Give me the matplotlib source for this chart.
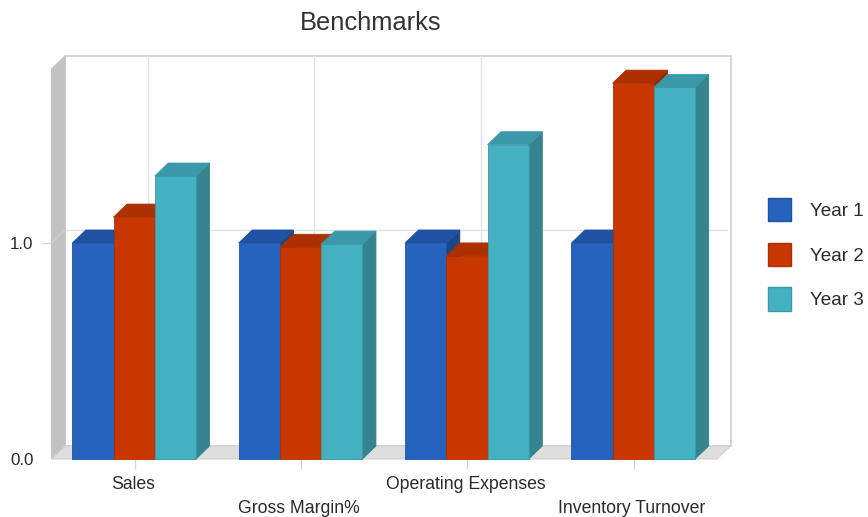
import matplotlib
matplotlib.use("Agg")
import matplotlib.pyplot as plt
from matplotlib.patches import Polygon, Patch
from matplotlib.transforms import ScaledTranslation

categories = ["Sales", "Gross Margin%", "Operating Expenses", "Inventory Turnover"]
series_names = ["Year 1", "Year 2", "Year 3"]
year1 = [1.0, 1.0, 1.0, 1.0]
year2 = [1.12, 0.98, 0.94, 1.74]
year3 = [1.31, 0.995, 1.455, 1.72]
series_values = [year1, year2, year3]
front_colors = ["#2563BF", "#C93700", "#44B1C3"]
top_colors = ["#1F52A3", "#AD3000", "#3A98A8"]
side_colors = ["#1B4788", "#902800", "#36848F"]
edge_colors = ["#1F52A3", "#AD3000", "#3A98A8"]

W, H = 868, 517
L, R, B, T = 51.5, 717.0, 459.0, 69.0
PX_PER_UNIT = 216.0
plt.rcParams["font.family"] = ["Liberation Sans", "DejaVu Sans"]
FS_X = 12.7
FS_Y = 12.2
FS_LEG = 13.6
TXT = "#2A2A2A"

fig = plt.figure(figsize=(W / 100, H / 100), dpi=100, facecolor="white")
ax = fig.add_axes([L / W, 1 - B / H, (R - L) / W, (B - T) / H])
ax.set_xlim(0, len(categories))
ax.set_ylim(0, (B - T) / PX_PER_UNIT)
for s in ax.spines.values():
    s.set_visible(False)
ax.patch.set_visible(False)

dx = 13.5 * len(categories) / (R - L)
dy = 13.0 / PX_PER_UNIT
xmax = len(categories)
ymax = ax.get_ylim()[1]


def poly(points, face, edge=None, lw=1.0, z=1):
    ax.add_patch(Polygon(points, closed=True, facecolor=face, edgecolor=edge or face,
                         linewidth=lw, zorder=z, clip_on=False))


# back wall, left wall and floor
wall_line = "#CFCFCF"
poly([(dx, dy), (xmax + dx, dy), (xmax + dx, ymax + dy), (dx, ymax + dy)], "white", wall_line, 1.2, 1)
grid = "#E3E3E3"
for i in range(len(categories) - 1):
    ax.plot([i + 0.5 + dx - 0.002] * 2, [dy, ymax + dy], color=grid, lw=1.0, zorder=1.5, clip_on=False)
ax.plot([dx, xmax + dx - 0.02], [1 + dy, 1 + dy], color=grid, lw=1.0, zorder=1.5, clip_on=False)
poly([(0, 0), (dx, dy), (dx, ymax + dy), (0, ymax)], "#C2C2C2", "#C2C2C2", 0.8, 2)
poly([(0, 0), (xmax, 0), (xmax + dx, dy), (dx, dy)], "#DEDEDE", "#CFCFCF", 0.8, 2)
ax.plot([0, dx], [1, 1 + dy], color="#CCCCCC", lw=1.0, zorder=2.5, clip_on=False)

# 3-D bars
bar_w = 0.248
for s, vals in enumerate(series_values):
    xs = [i + 0.125 + bar_w * s for i in range(len(categories))]
    z = 3 + s
    for x, v in zip(xs, vals):
        poly([(x + bar_w, 0), (x + bar_w + dx, dy), (x + bar_w + dx, v + dy), (x + bar_w, v)],
             side_colors[s], side_colors[s], 0.6, z)
        poly([(x, v), (x + bar_w, v), (x + bar_w + dx, v + dy), (x + dx, v + dy)],
             top_colors[s], top_colors[s], 0.6, z)
    ax.bar(xs, vals, width=bar_w, align="edge", color=front_colors[s],
           edgecolor=edge_colors[s], linewidth=0.6, zorder=z + 0.5, clip_on=False)

# axes ticks
ax.set_xticks([i + 0.5 for i in range(len(categories))])
ax.set_xticklabels(categories, fontsize=FS_X, color=TXT)
ax.set_yticks([0, 1])
ax.set_yticklabels(["0.0", "1.0"], fontsize=FS_Y, color=TXT)
ax.tick_params(axis="x", length=7.5, width=0.9, color="#D4D4D4")
ax.tick_params(axis="y", length=7.5, width=0.9, color="#D4D4D4", pad=5.5)
for i, t in enumerate(ax.xaxis.get_major_ticks()):
    t.set_pad(4.5 if i % 2 == 0 else 21.8)
shift = ScaledTranslation(-2 / 100, 0, fig.dpi_scale_trans)
for lab in ax.get_xticklabels():
    lab.set_transform(lab.get_transform() + shift)
ax.yaxis.get_major_ticks()[0].tick1line.set_visible(False)

ax.text((370.5 - L) / (R - L), (B - 22.5) / (B - T), "Benchmarks", transform=ax.transAxes,
        ha="center", va="center", fontsize=18.4, color="#333333")

handles = [Patch(facecolor=f, edgecolor=e, linewidth=1.0) for f, e in zip(front_colors, top_colors)]
leg = fig.legend(handles, series_names, loc="upper left", bbox_to_anchor=(768 / W, 1 - 198 / H),
                 frameon=False, borderpad=0, borderaxespad=0, fontsize=FS_LEG,
                 handlelength=1.22, handleheight=1.52, labelspacing=1.13, handletextpad=1.0)
for t in leg.get_texts():
    t.set_color(TXT)

fig.savefig("out.png", dpi=100)
